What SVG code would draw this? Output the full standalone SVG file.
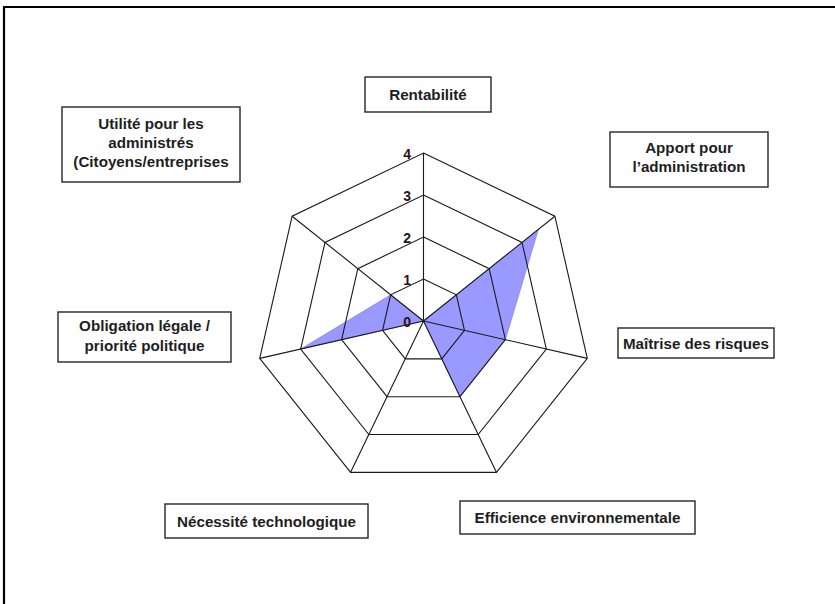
<svg xmlns="http://www.w3.org/2000/svg" width="835" height="604" viewBox="0 0 835 604">
<style>
.lbl{font-family:"Liberation Sans",Arial,sans-serif;font-weight:bold;font-size:15.2px;fill:#1e1e1e;text-anchor:middle}
.tick{font-family:"Liberation Sans",Arial,sans-serif;font-weight:bold;font-size:14px;fill:#2a1414;text-anchor:end}
.box{fill:#fff;stroke:#262626;stroke-width:1.4}
.grid{fill:none;stroke:#1a1a1a;stroke-width:1.1}
</style>
<rect x="0" y="0" width="835" height="604" fill="#fff"/>
<path d="M4 604 V7 H835" fill="none" stroke="#000" stroke-width="2.2"/>
<g id="data">
<polygon points="423.5,321 538.43,229.35 505.39,339.69 459.95,396.68 423.5,321 300.66,349.04 390.66,294.81" fill="#9999ff" stroke="#7777dd" stroke-width="0.6"/>
</g>
<g id="connectors">
<polygon class="grid" points="423.5,153 554.85,216.25 587.29,358.38 496.39,472.36 350.61,472.36 259.71,358.38 292.15,216.25"/>
<polygon class="grid" points="423.5,195 522.01,242.44 546.34,349.04 478.17,434.52 368.83,434.52 300.66,349.04 324.99,242.44"/>
<polygon class="grid" points="423.5,237 489.17,268.63 505.39,339.69 459.95,396.68 387.05,396.68 341.61,339.69 357.83,268.63"/>
<polygon class="grid" points="423.5,279 456.34,294.81 464.45,330.35 441.72,358.84 405.28,358.84 382.55,330.35 390.66,294.81"/>
<path class="grid" d="M423.5 321 L423.5 153 M423.5 321 L554.85 216.25 M423.5 321 L587.29 358.38 M423.5 321 L496.39 472.36 M423.5 321 L350.61 472.36 M423.5 321 L259.71 358.38 M423.5 321 L292.15 216.25"/>
</g>
<g id="ticks">
<text class="tick" x="411" y="159">4</text>
<text class="tick" x="411" y="201">3</text>
<text class="tick" x="411" y="243">2</text>
<text class="tick" x="411" y="285">1</text>
<text class="tick" x="411" y="327">0</text>
</g>
<g id="n-rentabilite">
<rect class="box" x="365" y="77" width="126" height="35"/>
<text class="lbl" x="428" y="100">Rentabilité</text>
</g>
<g id="n-apport">
<rect class="box" x="610" y="132" width="158" height="55"/>
<text class="lbl" x="689" y="153">Apport pour</text>
<text class="lbl" x="689" y="172">l’administration</text>
</g>
<g id="n-maitrise">
<rect class="box" x="618" y="328" width="156" height="30"/>
<text class="lbl" x="696" y="348.5">Maîtrise des risques</text>
</g>
<g id="n-efficience">
<rect class="box" x="460" y="501" width="235" height="33"/>
<text class="lbl" x="577.5" y="523">Efficience environnementale</text>
</g>
<g id="n-necessite">
<rect class="box" x="165" y="504" width="203" height="34"/>
<text class="lbl" x="266.5" y="527">Nécessité technologique</text>
</g>
<g id="n-obligation">
<rect class="box" x="58" y="312" width="173" height="50"/>
<text class="lbl" x="144.5" y="331">Obligation légale /</text>
<text class="lbl" x="144.5" y="350.5">priorité politique</text>
</g>
<g id="n-utilite">
<rect class="box" x="62" y="107" width="178" height="75"/>
<text class="lbl" x="151" y="128.5">Utilité pour les</text>
<text class="lbl" x="151" y="147.5">administrés</text>
<text class="lbl" x="151" y="166.5">(Citoyens/entreprises</text>
</g>
</svg>
